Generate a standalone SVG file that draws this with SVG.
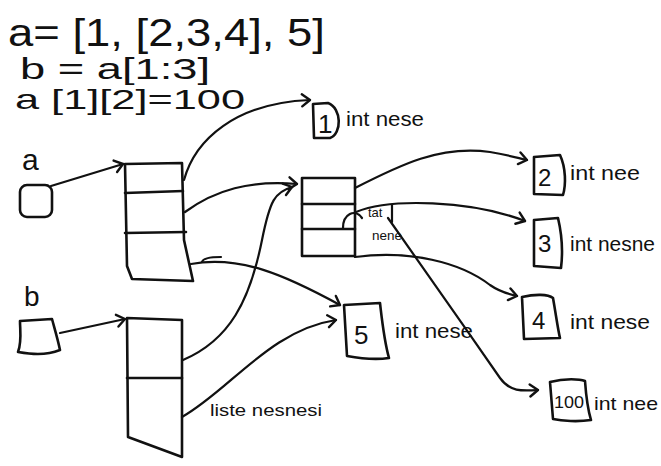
<svg xmlns="http://www.w3.org/2000/svg" width="661" height="466" viewBox="0 0 661 466">
<style>
.s{fill:none;stroke:#111;stroke-width:2.6;stroke-linecap:round;stroke-linejoin:round}
.c{fill:none;stroke:#111;stroke-width:2.2;stroke-linecap:round;stroke-linejoin:round}
.t{font-family:"Liberation Sans","DejaVu Sans",sans-serif;fill:#111}
</style>
<defs>
<marker id="ah" markerUnits="userSpaceOnUse" markerWidth="20" markerHeight="20" refX="10" refY="10" orient="auto">
<path d="M2,4 L10,10 L2,16" fill="none" stroke="#111" stroke-width="2.4" stroke-linecap="round" stroke-linejoin="round"/>
</marker>
</defs>
<rect width="661" height="466" fill="#fff"/>
<g id="code">
<text class="t" x="8" y="46" font-size="38" textLength="317" lengthAdjust="spacingAndGlyphs">a= [1, [2,3,4], 5]</text>
<text class="t" x="20" y="79" font-size="30" textLength="190" lengthAdjust="spacingAndGlyphs">b = a[1:3]</text>
<text class="t" x="15" y="109" font-size="28" textLength="230" lengthAdjust="spacingAndGlyphs">a [1][2]=100</text>
</g>
<g id="var-a">
<text class="t" x="22" y="170" font-size="30">a</text>
<rect class="s" x="20" y="185" width="32" height="32" rx="7"/>
</g>
<g id="var-b">
<text class="t" x="24" y="306" font-size="28">b</text>
<path class="s" d="M20,321 L52,319 C55,330 58,340 60,350 C45,356 30,354 18,352 C22,342 20,330 20,321 Z"/>
</g>
<g id="list-a">
<path class="s" d="M125,164 L182,163 L184,240 L193,281 L132,279 L127,266 Z"/>
<path class="s" d="M125,193 L183,191 M125,233 L186,232"/>
</g>
<g id="list-b">
<path class="s" d="M127,318 L182,320 L182,457 L128,437 Z"/>
<path class="s" d="M127,378 L182,378"/>
</g>
<g id="inner-list">
<path class="s" d="M302,178 L355,178 L355,256 L302,256 Z"/>
<path class="s" d="M302,204 L355,204 M302,229 L355,229"/>
</g>
<g id="int-1">
<path class="s" d="M313,104 L328,103 C342,108 342,134 330,138 L314,138 Z"/>
<text class="t" x="318" y="133" font-size="26">1</text>
<text class="t" x="346" y="126" font-size="20" textLength="78" lengthAdjust="spacingAndGlyphs">int nese</text>
</g>
<g id="int-2">
<path class="s" d="M534,157 L560,155 C566,168 566,185 563,195 L534,194 Z"/>
<text class="t" x="538" y="186" font-size="24">2</text>
<text class="t" x="570" y="180" font-size="20" textLength="70" lengthAdjust="spacingAndGlyphs">int nee</text>
</g>
<g id="int-3">
<path class="s" d="M534,220 L558,218 C562,235 563,252 561,268 L534,266 Z"/>
<text class="t" x="538" y="252" font-size="24">3</text>
<text class="t" x="570" y="251" font-size="20" textLength="85" lengthAdjust="spacingAndGlyphs">int nesne</text>
</g>
<g id="int-4">
<path class="s" d="M522,297 C535,294 548,294 553,298 C556,315 558,330 560,338 L524,339 Z"/>
<text class="t" x="532" y="329" font-size="24">4</text>
<text class="t" x="570" y="329" font-size="20" textLength="80" lengthAdjust="spacingAndGlyphs">int nese</text>
</g>
<g id="int-5">
<path class="s" d="M344,305 L380,303 C382,320 384,340 389,358 C375,360 358,358 347,356 Z"/>
<text class="t" x="354" y="344" font-size="26">5</text>
<text class="t" x="395" y="338" font-size="20" textLength="78" lengthAdjust="spacingAndGlyphs">int nese</text>
</g>
<g id="int-100">
<path class="s" d="M550,382 C565,378 580,379 585,381 C586,395 588,410 591,420 C578,422 562,421 553,419 Z"/>
<text class="t" x="554" y="408" font-size="17" textLength="30" lengthAdjust="spacingAndGlyphs">100</text>
<text class="t" x="594" y="410" font-size="19" textLength="64" lengthAdjust="spacingAndGlyphs">int nee</text>
</g>
<g id="connectors">
<path class="c" d="M51,186 L123,164" marker-end="url(#ah)"/>
<path class="c" d="M60,333 L125,319" marker-end="url(#ah)"/>
<path class="c" d="M184,180 C195,140 235,103 310,100" marker-end="url(#ah)"/>
<path class="c" d="M185,212 C215,190 250,180 297,184" marker-end="url(#ah)"/>
<path class="c" d="M191,264 C240,255 285,275 340,305" marker-end="url(#ah)"/>
<path class="c" d="M202,262 C203,258 210,257 221,257"/>
<path class="c" d="M183,360 C230,340 250,300 262,240 C270,200 275,192 292,187" marker-end="url(#ah)"/>
<path class="c" d="M182,417 C230,390 270,330 336,320" marker-end="url(#ah)"/>
<path class="c" d="M355,188 C400,165 440,145 490,152 C508,155 518,158 527,160" marker-end="url(#ah)"/>
<path class="c" d="M343,228 C343,214 355,208 362,218"/>
<path class="c" d="M356,212 C390,198 470,200 525,221" marker-end="url(#ah)"/>
<path class="c" d="M392,205 L392,222"/>
<path class="c" d="M355,257 C410,250 460,262 490,285 C500,292 508,294 517,296" marker-end="url(#ah)"/>
<path class="c" d="M388,218 C410,250 460,320 500,378 C510,392 522,391 538,390" marker-end="url(#ah)"/>
</g>
<g id="labels">
<text class="t" x="368" y="217" font-size="13">tat</text>
<text class="t" x="372" y="240" font-size="13" textLength="30" lengthAdjust="spacingAndGlyphs">nene</text>
<text class="t" x="210" y="416" font-size="17" textLength="112" lengthAdjust="spacingAndGlyphs">liste nesnesi</text>
</g>
</svg>
